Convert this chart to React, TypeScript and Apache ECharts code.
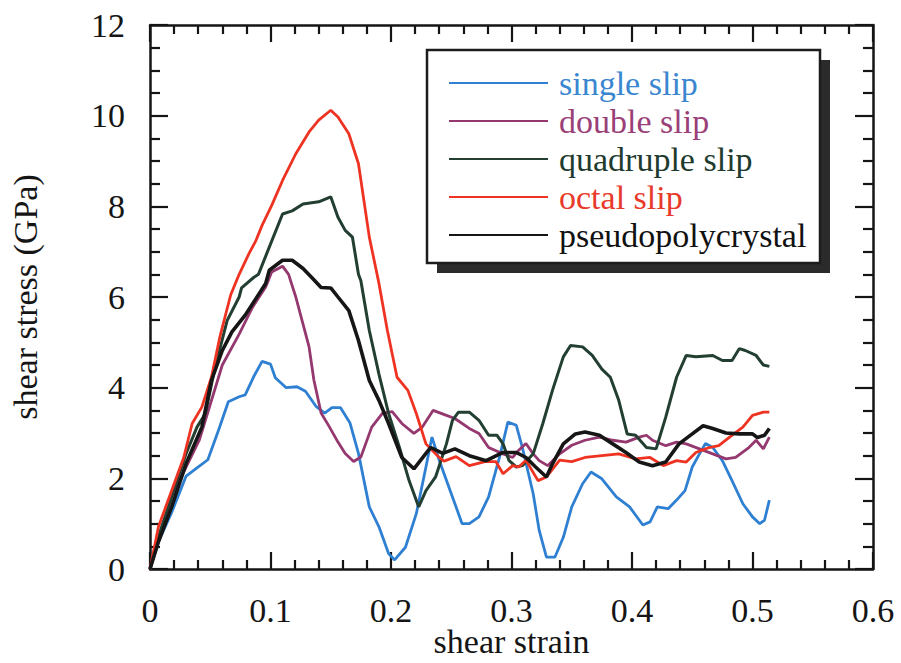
import React, { useEffect, useRef } from "react";
import * as echarts from "echarts";

// Shear stress (GPa) vs shear strain for the five slip configurations
const singleSlip: [number, number][] = [
  [0, 0], [0.007, 0.6], [0.018, 1.25], [0.03, 2.05], [0.039, 2.23], [0.048, 2.41],
  [0.057, 3.07], [0.065, 3.69], [0.074, 3.8], [0.079, 3.84], [0.086, 4.24], [0.093, 4.58],
  [0.1, 4.52], [0.104, 4.22], [0.113, 4.0], [0.122, 4.02], [0.129, 3.92], [0.138, 3.58],
  [0.145, 3.44], [0.151, 3.56], [0.158, 3.56], [0.166, 3.22], [0.173, 2.55], [0.182, 1.37],
  [0.19, 0.93], [0.198, 0.34], [0.203, 0.2], [0.212, 0.48], [0.221, 1.22], [0.229, 2.25],
  [0.234, 2.91], [0.24, 2.4], [0.248, 1.81], [0.259, 1.0], [0.265, 1.0], [0.273, 1.15],
  [0.281, 1.59], [0.29, 2.46], [0.297, 3.24], [0.304, 3.17], [0.309, 2.68], [0.318, 1.66],
  [0.323, 0.85], [0.329, 0.26], [0.336, 0.26], [0.343, 0.7], [0.35, 1.37], [0.359, 1.88],
  [0.366, 2.14], [0.375, 1.99], [0.387, 1.59], [0.398, 1.37], [0.409, 0.97], [0.415, 1.04],
  [0.421, 1.37], [0.43, 1.33], [0.437, 1.52], [0.444, 1.73], [0.45, 2.25], [0.456, 2.54],
  [0.461, 2.77], [0.467, 2.68], [0.475, 2.39], [0.483, 1.95], [0.492, 1.44], [0.5, 1.15],
  [0.506, 1.0], [0.51, 1.08], [0.514, 1.52],
];

const doubleSlip: [number, number][] = [
  [0, 0], [0.018, 1.6], [0.041, 2.85], [0.06, 4.5], [0.074, 5.18], [0.085, 5.77],
  [0.096, 6.22], [0.101, 6.55], [0.11, 6.68], [0.115, 6.5], [0.121, 6.0], [0.127, 5.4],
  [0.132, 4.9], [0.136, 4.17], [0.142, 3.44], [0.149, 3.13], [0.156, 2.8], [0.162, 2.55],
  [0.169, 2.37], [0.175, 2.47], [0.184, 3.13], [0.193, 3.44], [0.201, 3.47], [0.209, 3.21],
  [0.219, 2.99], [0.226, 3.13], [0.235, 3.5], [0.246, 3.39], [0.253, 3.32], [0.265, 3.1],
  [0.273, 2.99], [0.281, 2.68], [0.293, 2.54], [0.301, 2.46], [0.306, 2.62], [0.312, 2.77],
  [0.318, 2.54], [0.323, 2.39], [0.33, 2.28], [0.34, 2.54], [0.35, 2.73], [0.361, 2.84],
  [0.373, 2.91], [0.384, 2.84], [0.395, 2.8], [0.406, 2.91], [0.412, 2.95], [0.417, 2.84],
  [0.428, 2.72], [0.437, 2.8], [0.445, 2.76], [0.456, 2.65], [0.467, 2.54], [0.478, 2.43],
  [0.486, 2.46], [0.497, 2.68], [0.503, 2.84], [0.509, 2.65], [0.514, 2.91],
];

const quadrupleSlip: [number, number][] = [
  [0, 0], [0.007, 0.72], [0.018, 1.6], [0.03, 2.55], [0.039, 3.13], [0.046, 3.43],
  [0.054, 4.45], [0.064, 5.48], [0.074, 6.0], [0.076, 6.2], [0.086, 6.43], [0.09, 6.5],
  [0.099, 7.1], [0.11, 7.83], [0.118, 7.9], [0.127, 8.05], [0.14, 8.1], [0.15, 8.21],
  [0.156, 7.76], [0.162, 7.47], [0.168, 7.32], [0.173, 6.5], [0.175, 6.36], [0.182, 5.26],
  [0.19, 4.3], [0.198, 3.43], [0.207, 2.68], [0.215, 1.95], [0.223, 1.37], [0.229, 1.73],
  [0.237, 2.03], [0.246, 2.76], [0.251, 3.28], [0.256, 3.46], [0.265, 3.46], [0.273, 3.28],
  [0.281, 2.95], [0.288, 2.95], [0.293, 2.76], [0.298, 2.39], [0.304, 2.25], [0.309, 2.28],
  [0.318, 2.54], [0.326, 3.21], [0.334, 3.94], [0.343, 4.68], [0.349, 4.93], [0.359, 4.9],
  [0.367, 4.71], [0.375, 4.41], [0.382, 4.23], [0.389, 3.72], [0.396, 2.98], [0.403, 2.95],
  [0.412, 2.68], [0.42, 2.65], [0.428, 3.35], [0.437, 4.23], [0.445, 4.71], [0.453, 4.68],
  [0.467, 4.71], [0.475, 4.6], [0.483, 4.6], [0.489, 4.86], [0.494, 4.82], [0.503, 4.71],
  [0.509, 4.5], [0.514, 4.47],
];

const octalSlip: [number, number][] = [
  [0, 0], [0.007, 0.93], [0.018, 1.73], [0.028, 2.46], [0.035, 3.21], [0.043, 3.57],
  [0.051, 4.23], [0.058, 5.12], [0.067, 6.05], [0.074, 6.5], [0.082, 6.95], [0.088, 7.25],
  [0.093, 7.58], [0.101, 8.02], [0.11, 8.57], [0.121, 9.16], [0.132, 9.64], [0.14, 9.9],
  [0.15, 10.12], [0.156, 9.97], [0.165, 9.6], [0.173, 8.94], [0.182, 7.32], [0.19, 6.3],
  [0.197, 5.26], [0.205, 4.23], [0.214, 3.94], [0.221, 3.43], [0.229, 2.76], [0.24, 2.46],
  [0.244, 2.38], [0.254, 2.48], [0.265, 2.28], [0.278, 2.37], [0.287, 2.37], [0.293, 2.1],
  [0.301, 2.28], [0.306, 2.25], [0.312, 2.4], [0.322, 1.95], [0.329, 2.03], [0.34, 2.4],
  [0.35, 2.37], [0.361, 2.46], [0.375, 2.5], [0.389, 2.54], [0.403, 2.43], [0.415, 2.46],
  [0.426, 2.28], [0.437, 2.39], [0.445, 2.36], [0.453, 2.57], [0.464, 2.68], [0.472, 2.72],
  [0.481, 2.91], [0.492, 3.13], [0.5, 3.39], [0.509, 3.46], [0.514, 3.46],
];

const pseudopolycrystal: [number, number][] = [
  [0, 0], [0.007, 0.6], [0.018, 1.37], [0.03, 2.33], [0.043, 3.13], [0.051, 4.16],
  [0.06, 4.82], [0.068, 5.23], [0.079, 5.6], [0.088, 5.97], [0.096, 6.3], [0.099, 6.59],
  [0.11, 6.81], [0.118, 6.81], [0.127, 6.63], [0.135, 6.41], [0.142, 6.21], [0.15, 6.2],
  [0.156, 6.0], [0.165, 5.7], [0.173, 5.04], [0.182, 4.16], [0.19, 3.72], [0.198, 3.21],
  [0.209, 2.46], [0.219, 2.21], [0.229, 2.55], [0.233, 2.68], [0.243, 2.55], [0.253, 2.65],
  [0.265, 2.5], [0.279, 2.39], [0.293, 2.57], [0.304, 2.57], [0.312, 2.46], [0.32, 2.25],
  [0.329, 2.03], [0.334, 2.32], [0.343, 2.76], [0.353, 2.98], [0.361, 3.02], [0.373, 2.95],
  [0.384, 2.76], [0.395, 2.57], [0.406, 2.36], [0.417, 2.28], [0.428, 2.36], [0.439, 2.76],
  [0.45, 2.98], [0.459, 3.16], [0.467, 3.1], [0.478, 3.0], [0.489, 2.98], [0.5, 2.98],
  [0.504, 2.9], [0.51, 2.95], [0.514, 3.1],
];

const seriesNames = ["single slip", "double slip", "quadruple slip", "octal slip", "pseudopolycrystal"];
const seriesData = [singleSlip, doubleSlip, quadrupleSlip, octalSlip, pseudopolycrystal];
const lineColors = ["#2f80d2", "#94386f", "#223f32", "#ee3322", "#161616"];
const textColors = ["#3a86d0", "#9a3f78", "#1e3b2e", "#e83a2a", "#111111"];
const lineWidths = [2.8, 2.8, 3, 2.8, 3.6];

const FONT = "'Liberation Serif', 'Times New Roman', serif";
const FONT_SIZE = 34;
const INK = "#151515";

export default function App() {
  const ref = useRef<HTMLDivElement>(null);

  useEffect(() => {
    if (!ref.current) return;
    const chart = echarts.init(ref.current, undefined, { renderer: "svg" });

    const axisLine = { show: true, onZero: false, lineStyle: { color: INK, width: 2.5 } };
    const xTicks = {
      axisTick: { show: true, inside: true, length: 17, lineStyle: { color: INK, width: 2.2 } },
      minorTick: { show: true, splitNumber: 5, length: 9, lineStyle: { color: INK, width: 2.2 } },
    };
    const yTicks = {
      axisTick: { show: true, inside: true, length: 18, lineStyle: { color: INK, width: 2.2 } },
      minorTick: { show: true, splitNumber: 4, length: 10, lineStyle: { color: INK, width: 2.2 } },
    };

    const xBase = { type: "value" as const, min: 0, max: 0.6, interval: 0.1, axisLine, splitLine: { show: false } };
    const yBase = { type: "value" as const, min: 0, max: 12, interval: 2, axisLine, splitLine: { show: false } };

    chart.setOption({
      animation: false,
      backgroundColor: "#ffffff",
      textStyle: { fontFamily: FONT },
      grid: { left: 150, right: 28, top: 25, bottom: 94, containLabel: false, outerBoundsMode: "none" },
      xAxis: [
        {
          ...xBase,
          ...xTicks,
          position: "bottom",
          name: "shear strain",
          nameLocation: "middle",
          nameGap: 56,
          nameMoveOverlap: false,
          nameTextStyle: { fontFamily: FONT, fontSize: FONT_SIZE, color: INK, lineHeight: 32 },
          axisLabel: {
            margin: 27,
            lineHeight: 28,
            fontFamily: FONT,
            fontSize: FONT_SIZE,
            color: INK,
            formatter: (v: number) => String(Math.round(v * 10) / 10),
          },
        },
        { ...xBase, ...xTicks, position: "top", axisLabel: { show: false } },
      ],
      yAxis: [
        {
          ...yBase,
          ...yTicks,
          position: "left",
          name: "shear stress (GPa)",
          nameLocation: "middle",
          nameGap: 108,
          nameMoveOverlap: false,
          nameTextStyle: { fontFamily: FONT, fontSize: FONT_SIZE, color: INK },
          axisLabel: { margin: 25, fontFamily: FONT, fontSize: FONT_SIZE, color: INK },
        },
        { ...yBase, ...yTicks, position: "right", axisLabel: { show: false } },
      ],
      legend: {
        orient: "vertical",
        left: 449,
        top: 66,
        padding: 0,
        itemWidth: 99,
        itemHeight: 26,
        itemGap: 4,
        icon: "path://M0,12 L99,12 L99,14 L0,14 Z",
        z: 10,
        data: seriesNames.map((name, i) => ({
          name,
          itemStyle: { color: lineColors[i] },
          textStyle: {
            color: textColors[i],
            fontFamily: FONT,
            fontSize: FONT_SIZE,
            padding: [0, 0, 0, 6],
          },
        })),
      },
      graphic: [
        {
          type: "rect",
          z: 5,
          shape: { x: 437, y: 60, width: 393, height: 213 },
          style: { fill: "#2b2b2b" },
        },
        {
          type: "rect",
          z: 6,
          shape: { x: 427, y: 50, width: 393, height: 213 },
          style: { fill: "#ffffff", stroke: "#1c1c1c", lineWidth: 2.5 },
        },
      ],
      series: seriesNames.map((name, i) => ({
        name,
        type: "line",
        xAxisIndex: 0,
        yAxisIndex: 0,
        data: seriesData[i],
        symbol: "none",
        showSymbol: false,
        smooth: false,
        lineStyle: { color: lineColors[i], width: lineWidths[i] },
        itemStyle: { color: lineColors[i] },
        z: 2 + i,
      })),
    });

    return () => chart.dispose();
  }, []);

  return (
    <div
      ref={ref}
      style={{ position: "fixed", left: 0, top: 0, width: 901, height: 663 }}
    />
  );
}
